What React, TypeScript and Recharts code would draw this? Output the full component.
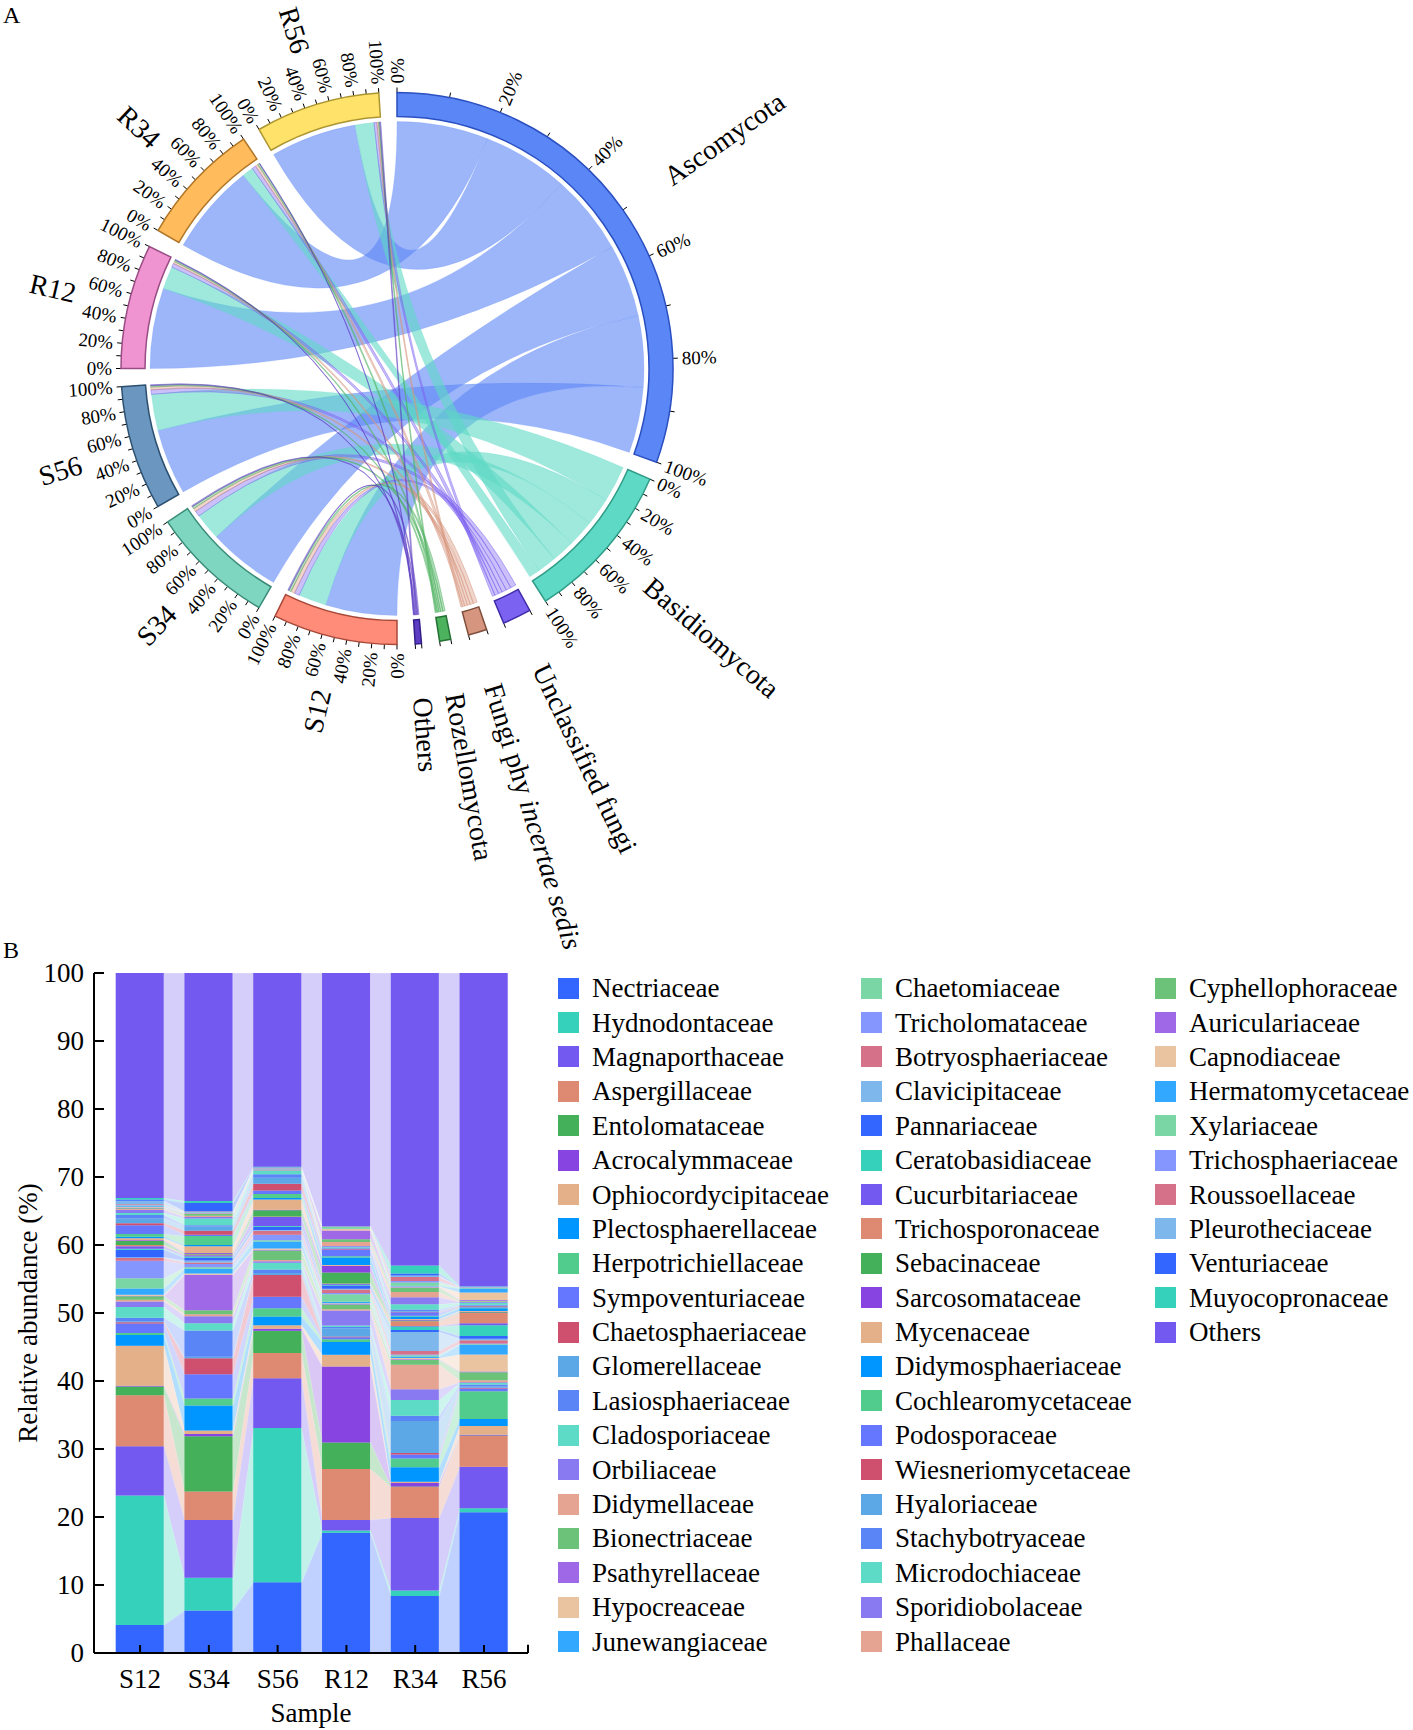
import React from 'react';
import {
  PieChart, Pie, Cell, Customized, ComposedChart, BarChart, Area, Bar, XAxis, YAxis, ReferenceLine,
} from 'recharts';

const FONT = '"Liberation Serif", "Times New Roman", Times, serif';

// ---------------- Panel A data (phylum % per sample) ----------------
const phyla = ['Ascomycota', 'Basidiomycota', 'Unclassified fungi', 'Fungi phy incertae sedis', 'Rozellomycota', 'Others'];
const samples = ['S12', 'S34', 'S56', 'R12', 'R34', 'R56'];
const phylaS12 = [64, 25, 4.5, 3.5, 2, 1];
const phylaS34 = [65, 24, 5, 3, 2, 1];
const phylaS56 = [59, 32.5, 4, 2.5, 1.2, 0.8];
const phylaR12 = [72, 20.5, 3.5, 2, 1.3, 0.7];
const phylaR34 = [82, 10, 3.5, 2.5, 1.5, 0.5];
const phylaR56 = [77, 17, 2.5, 1.5, 1.0, 1.0];

// sector styles
const phylumFill = ['#5B86F6', '#5ED9C5', '#7C62F0', '#D6957E', '#4DB25E', '#5C3DC4'];
const phylumStroke = ['#2A4FC0', '#2F9C87', '#3F2AA8', '#7E4E3C', '#237033', '#35208A'];
const sampleFill = ['#FF8C78', '#7ED6C0', '#6B96C0', '#EF94D0', '#FFBB5C', '#FFE26A'];
const sampleStroke = ['#A84838', '#3A8C78', '#2C5070', '#9A4D85', '#B07628', '#AD9632'];

// ---------------- Panel B data (family relative abundance %) ----------------
const families = [
  'Nectriaceae', 'Hydnodontaceae', 'Magnaporthaceae', 'Aspergillaceae', 'Entolomataceae', 'Acrocalymmaceae',
  'Ophiocordycipitaceae', 'Plectosphaerellaceae', 'Herpotrichiellaceae', 'Sympoventuriaceae', 'Chaetosphaeriaceae',
  'Glomerellaceae', 'Lasiosphaeriaceae', 'Cladosporiaceae', 'Orbiliaceae', 'Didymellaceae', 'Bionectriaceae',
  'Psathyrellaceae', 'Hypocreaceae', 'Junewangiaceae', 'Chaetomiaceae', 'Tricholomataceae', 'Botryosphaeriaceae',
  'Clavicipitaceae', 'Pannariaceae', 'Ceratobasidiaceae', 'Cucurbitariaceae', 'Trichosporonaceae', 'Sebacinaceae',
  'Sarcosomataceae', 'Mycenaceae', 'Didymosphaeriaceae', 'Cochlearomycetaceae', 'Podosporaceae',
  'Wiesneriomycetaceae', 'Hyaloriaceae', 'Stachybotryaceae', 'Microdochiaceae', 'Sporidiobolaceae', 'Phallaceae',
  'Cyphellophoraceae', 'Auriculariaceae', 'Capnodiaceae', 'Hermatomycetaceae', 'Xylariaceae', 'Trichosphaeriaceae',
  'Roussoellaceae', 'Pleurotheciaceae', 'Venturiaceae', 'Muyocopronaceae', 'Others',
];

const famS12 = [
  4.1, 19.05, 7.25, 7.5, 1.3, 0.1, 5.9, 1.55,
  0.3, 1.4, 0.2, 0.15, 0.5, 1.6, 0.8, 0.25,
  0.5, 0.1, 0.15, 0.9, 1.5, 2.6, 0.4, 0.1,
  1.1, 0.15, 0.35, 0.2, 0.6, 0.1, 0.3, 0.2,
  0.4, 1.3, 0.3, 0.7, 0.5, 0.3, 0.5, 0.1,
  0.1, 0.1, 0.1, 0.1, 0.1, 0.1, 0.1, 0.5,
  0.2, 0.2, 33.1,
];
const famS34 = [
  6.26, 4.8, 8.5, 4.2, 8.1, 0.35, 0.5, 3.7,
  1.0, 3.6, 2.35, 0.2, 3.85, 1.1, 1.0, 0.3,
  0.6, 5.2, 0.2, 0.7, 0.2, 0.5, 0.2, 0.3,
  0.4, 0.2, 0.2, 0.1, 0.1, 0.1, 1.0, 0.2,
  1.3, 0.2, 0.6, 0.6, 0.2, 1.0, 0.2, 0.2,
  0.3, 0.05, 0.05, 0.05, 0.05, 0.05, 0.05, 0.05,
  1.2, 0.3, 33.54,
];
const famS56 = [
  10.4, 22.7, 7.3, 3.7, 3.3, 0.3, 0.5, 1.3,
  1.2, 1.7, 3.2, 0.3, 0.5, 1.0, 0.2, 0.2,
  1.4, 0.1, 0.2, 1.0, 0.2, 0.8, 0.6, 0.1,
  0.5, 0.1, 1.3, 0.1, 0.9, 0.1, 1.5, 0.2,
  0.6, 0.5, 1.0, 0.9, 0.5, 0.5, 0.05, 0.05,
  0.05, 0.05, 0.05, 0.05, 0.05, 0.05, 0.05, 0.05,
  0.05, 0.05, 28.5,
];
const famR12 = [
  17.7, 0.3, 1.55, 7.5, 3.9, 11.2, 1.7, 1.9,
  0.4, 0.3, 0.1, 1.2, 0.2, 0.2, 2.2, 0.2,
  0.7, 0.1, 0.1, 0.2, 1.1, 0.2, 0.5, 0.1,
  0.5, 0.1, 0.1, 0.1, 1.6, 1.0, 0.1, 1.1,
  0.2, 1.0, 0.1, 0.1, 0.1, 0.1, 0.1, 0.6,
  0.4, 1.3, 0.2, 0.05, 0.3, 0.02, 0.02, 0.02,
  0.02, 0.02, 37.2,
];
const famR34 = [
  8.4, 0.8, 10.65, 4.55, 0.1, 0.5, 0.2, 2.1,
  1.3, 0.6, 0.2, 4.7, 0.8, 2.3, 1.6, 3.6,
  0.7, 0.1, 0.2, 0.2, 0.2, 0.1, 0.5, 2.8,
  0.3, 0.5, 0.1, 0.7, 0.1, 0.1, 0.1, 0.4,
  0.1, 0.5, 0.1, 0.1, 0.2, 0.8, 1.0, 0.8,
  0.6, 0.1, 0.1, 0.1, 0.5, 0.2, 0.6, 0.2,
  0.3, 1.2, 43.0,
];
const famR56 = [
  20.7, 0.6, 6.1, 4.5, 0.1, 0.1, 1.3, 1.0,
  4.1, 0.4, 0.1, 0.2, 0.3, 0.2, 0.1, 0.3,
  1.2, 0.1, 2.5, 1.4, 0.1, 0.1, 0.5, 0.2,
  0.4, 1.6, 0.3, 1.5, 0.1, 0.1, 0.1, 0.4,
  0.1, 0.1, 0.1, 0.1, 0.1, 0.3, 0.1, 0.1,
  0.1, 0.1, 1.1, 0.6, 0.1, 0.05, 0.05, 0.05,
  0.05, 0.05, 46.05,
];
const yTicks = [0, 10, 20, 30, 40, 50, 60, 70, 80, 90, 100];

// 24-colour palette that repeats through the family list
const palette = [
  '#3366FF', '#36D1BA', '#7459F0', '#DE8A72', '#45B05A', '#8744E0', '#E3B08A', '#0096FF',
  '#52CC8C', '#6677FF', '#CF4F6E', '#5CA8E6', '#5A85F7', '#5EDBC6', '#8A7AF2', '#E5A391',
  '#6CC278', '#9E68E6', '#EAC3A1', '#33A8FF', '#7BD6A6', '#8596FF', '#D6718A', '#7DB7EC',
];
const famColor = (k: number) => palette[k % palette.length];

// ---------------- Panel A geometry ----------------
const CX = 397;
const CY = 368.5;
const R_OUT = 276;
const R_IN = 252;
const R_LINK = 247;
const PAD = 3.78;

const chordMatrix = [phylaS12, phylaS34, phylaS56, phylaR12, phylaR34, phylaR56];
const phylumTotals = phyla.map((_, j) => chordMatrix.reduce((s, row) => s + row[j], 0));
const sampleTotals = chordMatrix.map((row) => row.reduce((a, b) => a + b, 0));
const sectorData = [
  ...phyla.map((n, j) => ({ name: n, value: phylumTotals[j] })),
  ...samples.map((n, i) => ({ name: n, value: sampleTotals[i] })),
];
const sectorFill = [...phylumFill, ...sampleFill];
const sectorStroke = [...phylumStroke, ...sampleStroke];

function layoutSectors() {
  const total = sectorData.reduce((s, d) => s + d.value, 0);
  const real = 360 - sectorData.length * PAD;
  const k = real / total;
  let end = 0;
  const sectors = sectorData.map((d, i) => {
    const start = i === 0 ? 0 : end + PAD;
    end = start + d.value * k;
    return { ...d, start, end };
  });
  return { k, sectors };
}

const pt = (deg: number, r: number) => {
  const a = (deg * Math.PI) / 180;
  return [CX + r * Math.sin(a), CY - r * Math.cos(a)];
};

function ribbonPath(a1: number, a2: number, b1: number, b2: number) {
  const r = R_LINK;
  const [x1, y1] = pt(a1, r);
  const [x2, y2] = pt(a2, r);
  const [x3, y3] = pt(b1, r);
  const [x4, y4] = pt(b2, r);
  return `M${x1},${y1} A${r},${r} 0 0 1 ${x2},${y2} Q${CX},${CY} ${x3},${y3} A${r},${r} 0 0 1 ${x4},${y4} Q${CX},${CY} ${x1},${y1} Z`;
}

function radialText(key: string, deg: number, r: number, size: number, content: React.ReactNode) {
  const [x, y] = pt(deg, r);
  const flip = deg > 179.5;
  const rot = flip ? deg - 270 : deg - 90;
  return (
    <text
      key={key}
      x={x}
      y={y}
      transform={`rotate(${rot} ${x} ${y})`}
      textAnchor={flip ? 'end' : 'start'}
      dominantBaseline="central"
      fontSize={size}
      fontFamily={FONT}
      fill="#000"
    >
      {content}
    </text>
  );
}

function ChordOverlay() {
  const { k, sectors } = layoutSectors();
  const np = phyla.length;
  const sampleSide: number[][][] = [];
  chordMatrix.forEach((row, s) => {
    const sec = sectors[np + s];
    const order = row.map((_, p) => p).sort((a, b) => row[b] - row[a]);
    let pos = sec.start;
    sampleSide[s] = [];
    order.forEach((p) => {
      const a1 = pos;
      const a2 = pos + row[p] * k;
      sampleSide[s][p] = [a1, a2];
      pos = a2;
    });
  });
  const phylumSide: number[][][] = [];
  phyla.forEach((_, p) => {
    const sec = sectors[p];
    const order = samples.map((_, s) => s).sort((a, b) => chordMatrix[b][p] - chordMatrix[a][p]);
    let pos = sec.start;
    phylumSide[p] = [];
    order.forEach((s) => {
      const b1 = pos;
      const b2 = pos + chordMatrix[s][p] * k;
      phylumSide[p][s] = [b1, b2];
      pos = b2;
    });
  });

  const ribbons: React.ReactNode[] = [];
  phyla.forEach((_, p) => {
    samples.forEach((_, s) => {
      const [a1, a2] = sampleSide[s][p];
      const [b1, b2] = phylumSide[p][s];
      const big = p < 2;
      ribbons.push(
        <path
          key={`rb-${p}-${s}`}
          d={ribbonPath(a1, a2, b1, b2)}
          fill={phylumFill[p]}
          fillOpacity={big ? 0.6 : 0.4}
          stroke={phylumFill[p]}
          strokeOpacity={big ? 0.3 : 0.8}
          strokeWidth={0.6}
        />,
      );
    });
  });

  const ticks: React.ReactNode[] = [];
  const labels: React.ReactNode[] = [];
  sectors.forEach((sec, i) => {
    const small = sec.value < 30;
    const steps = small ? [0, 10] : [0, 1, 2, 3, 4, 5, 6, 7, 8, 9, 10];
    steps.forEach((t) => {
      const deg = sec.start + ((sec.end - sec.start) * t) / 10;
      const [x1, y1] = pt(deg, R_OUT);
      const [x2, y2] = pt(deg, R_OUT + 5);
      ticks.push(<line key={`tk-${i}-${t}`} x1={x1} y1={y1} x2={x2} y2={y2} stroke="#000" strokeWidth={1} />);
      if (!small && t % 2 === 0) {
        labels.push(radialText(`tl-${i}-${t}`, deg, R_OUT + 9, 19, `${t * 10}%`));
      }
    });
    const mid = (sec.start + sec.end) / 2;
    const name =
      sec.name === 'Fungi phy incertae sedis' ? (
        <>
          <tspan>Fungi phy </tspan>
          <tspan fontStyle="italic">incertae sedis</tspan>
        </>
      ) : (
        sec.name
      );
    labels.push(radialText(`nm-${i}`, mid, 330, 28, name));
  });

  return (
    <g>
      <g>{ribbons}</g>
      <g>{ticks}</g>
      <g>{labels}</g>
    </g>
  );
}

// ---------------- Panel B rows ----------------
const famBySample = [famS12, famS34, famS56, famR12, famR34, famR56];
const HALF = 0.35;
// flow rows: left and right edge of each bar
const flowRows: any[] = [];
famBySample.forEach((vals, i) => {
  [-HALF, HALF].forEach((off) => {
    const row: any = { x: i + 1 + off };
    families.forEach((_, k) => {
      row[`f${k}`] = vals[k];
    });
    flowRows.push(row);
  });
});
// bar rows: one per sample
const barRows = famBySample.map((vals, i) => {
  const row: any = { x: i + 1, sample: samples[i] };
  families.forEach((_, k) => {
    row[`b${k}`] = vals[k];
  });
  return row;
});
const xTicks = samples.map((_, i) => i + 1);
const X_DOMAIN = [0.33, 6.64];

const XTick = (props: any) => {
  const { x, y, payload } = props;
  return (
    <g>
      <line x1={x} x2={x} y1={y} y2={y - 8} stroke="#000" strokeWidth={2} />
      <text x={x} y={y + 35} textAnchor="middle" fontSize={27} fontFamily={FONT} fill="#000">
        {samples[payload.value - 1]}
      </text>
    </g>
  );
};

const YTick = (props: any) => {
  const { x, y, payload } = props;
  return (
    <g>
      <line x1={x} x2={x + 10} y1={y} y2={y} stroke="#000" strokeWidth={2} />
      <text x={x - 10} y={y} dy="0.35em" textAnchor="end" fontSize={27} fontFamily={FONT} fill="#000">
        {payload.value}
      </text>
    </g>
  );
};

const YLabel = (props: any) => {
  const vb = props.viewBox || { x: 34, y: 43, width: 60, height: 680 };
  const x = vb.x - 6;
  const y = vb.y + vb.height / 2;
  return (
    <text x={x} y={y} transform={`rotate(-90 ${x} ${y})`} textAnchor="middle" dominantBaseline="central"
      fontSize={27} fontFamily={FONT} fill="#000">
      Relative abundance (%)
    </text>
  );
};

const XLabel = (props: any) => {
  const vb = props.viewBox || { x: 94, y: 723, width: 434, height: 60 };
  return (
    <text x={vb.x + vb.width / 2} y={vb.y + 69} textAnchor="middle" fontSize={27} fontFamily={FONT} fill="#000">
      Sample
    </text>
  );
};

const legendColumns = [families.slice(0, 20), families.slice(20, 40), families.slice(40)];
const legendLeft = [558, 861, 1155];

const CHART_W = 560;
const CHART_H = 800;

export default function App() {
  return (
    <div style={{ position: 'absolute', left: 0, top: 0, width: 1413, height: 1730, background: '#fff', overflow: 'hidden', fontFamily: FONT }}>
      <div style={{ position: 'absolute', left: 3, top: 3, fontSize: 24, lineHeight: '24px' }}>A</div>
      <div style={{ position: 'absolute', left: 0, top: 0 }}>
        <PieChart width={800} height={970} margin={{ top: 0, right: 0, bottom: 0, left: 0 }}>
          <Pie
            data={sectorData}
            dataKey="value"
            nameKey="name"
            cx={CX}
            cy={CY}
            innerRadius={R_IN}
            outerRadius={R_OUT}
            startAngle={90}
            endAngle={-270}
            paddingAngle={PAD}
            isAnimationActive={false}
          >
            {sectorData.map((d, i) => (
              <Cell key={d.name} fill={sectorFill[i]} stroke={sectorStroke[i]} strokeWidth={1.5} />
            ))}
          </Pie>
          <Customized component={<ChordOverlay />} />
        </PieChart>
      </div>

      <div style={{ position: 'absolute', left: 3, top: 938, fontSize: 24, lineHeight: '24px' }}>B</div>

      {/* flows between bars (same plot box as the bar chart) */}
      <div style={{ position: 'absolute', left: 0, top: 930 }}>
        <ComposedChart width={CHART_W} height={CHART_H} data={flowRows} margin={{ top: 43, right: 32, bottom: 77, left: 94 }}>
          <XAxis type="number" dataKey="x" domain={X_DOMAIN} allowDataOverflow hide />
          <YAxis type="number" domain={[0, 100]} allowDataOverflow hide />
          {families.map((f, k) => (
            <Area
              key={`a-${f}`}
              type="linear"
              dataKey={`f${k}`}
              stackId="flow"
              fill={famColor(k)}
              fillOpacity={0.3}
              stroke="#ffffff"
              strokeOpacity={0.5}
              strokeWidth={0.5}
              dot={false}
              activeDot={false}
              isAnimationActive={false}
            />
          ))}
        </ComposedChart>
      </div>

      {/* stacked bars with axes */}
      <div style={{ position: 'absolute', left: 0, top: 930 }}>
        <BarChart width={CHART_W} height={CHART_H} data={barRows} margin={{ top: 43, right: 32, bottom: 17, left: 34 }}>
          <XAxis
            type="number"
            dataKey="x"
            domain={X_DOMAIN}
            allowDataOverflow
            ticks={xTicks}
            interval={0}
            tick={XTick}
            tickLine={false}
            tickSize={0}
            tickMargin={0}
            axisLine={{ stroke: '#000', strokeWidth: 2 }}
            height={60}
            label={<XLabel />}
          />
          <YAxis
            type="number"
            domain={[0, 100]}
            allowDataOverflow
            ticks={yTicks}
            interval={0}
            tick={YTick}
            tickLine={false}
            tickSize={0}
            tickMargin={0}
            axisLine={{ stroke: '#000', strokeWidth: 2 }}
            width={60}
            label={<YLabel />}
          />
          {families.map((f, k) => (
            <Bar key={`b-${f}`} dataKey={`b${k}`} stackId="bar" fill={famColor(k)} barSize={48} isAnimationActive={false} />
          ))}
          <ReferenceLine segment={[{ x: 6.64, y: 0 }, { x: 6.64, y: 1.2 }]} stroke="#000" strokeWidth={2} ifOverflow="visible" />
        </BarChart>
      </div>

      {legendColumns.map((col, ci) => (
        <div key={ci} style={{ position: 'absolute', left: legendLeft[ci], top: 971 }}>
          {col.map((name) => {
            const k = families.indexOf(name);
            return (
              <div key={name} style={{ display: 'flex', alignItems: 'center', height: 34.4 }}>
                <div style={{ width: 21, height: 21, background: famColor(k), marginRight: 13, flex: 'none' }} />
                <div style={{ fontSize: 27, lineHeight: '30px', whiteSpace: 'nowrap', color: '#000' }}>{name}</div>
              </div>
            );
          })}
        </div>
      ))}
    </div>
  );
}
